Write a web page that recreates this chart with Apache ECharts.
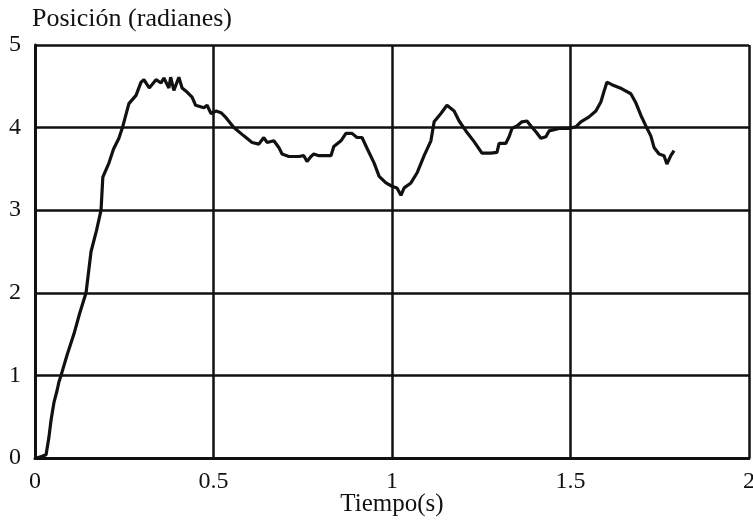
<!DOCTYPE html>
<html>
<head>
<meta charset="utf-8">
<script src="https://cdn.jsdelivr.net/npm/echarts@6/dist/echarts.min.js"></script>
<style>html,body{margin:0;padding:0;background:#fff}#c{width:753px;height:522px}</style>
</head>
<body>
<div id="c"></div>
<script>
var yTitle = 'Posición (radianes)';
var xTitle = 'Tiempo(s)';
var time = [0.005,0.02,0.031,0.039,0.045,0.053,0.062,0.067,0.073,0.09,0.109,0.125,0.143,0.157,0.172,0.185,0.19,0.207,0.22,0.235,0.245,0.263,0.283,0.297,0.305,0.32,0.339,0.353,0.361,0.375,0.38,0.389,0.403,0.412,0.426,0.44,0.45,0.473,0.482,0.493,0.507,0.521,0.535,0.557,0.585,0.608,0.627,0.641,0.65,0.669,0.683,0.692,0.711,0.739,0.753,0.762,0.773,0.781,0.795,0.829,0.837,0.857,0.871,0.888,0.902,0.916,0.93,0.95,0.964,0.983,1.0,1.014,1.025,1.034,1.053,1.07,1.09,1.109,1.118,1.137,1.154,1.174,1.188,1.207,1.23,1.252,1.277,1.294,1.3,1.319,1.328,1.336,1.35,1.364,1.378,1.389,1.403,1.417,1.431,1.44,1.468,1.496,1.515,1.529,1.552,1.571,1.585,1.594,1.602,1.616,1.644,1.669,1.683,1.697,1.711,1.725,1.734,1.748,1.762,1.77,1.781,1.79];
var position = [0,0.02,0.04,0.25,0.46,0.67,0.82,0.92,1.0,1.25,1.5,1.75,2.0,2.5,2.75,3.0,3.4,3.57,3.74,3.87,4.0,4.29,4.39,4.55,4.58,4.48,4.58,4.54,4.6,4.48,4.61,4.45,4.61,4.48,4.43,4.37,4.27,4.24,4.27,4.17,4.2,4.18,4.12,4.0,3.9,3.82,3.8,3.88,3.82,3.84,3.76,3.68,3.65,3.65,3.66,3.59,3.65,3.68,3.66,3.66,3.77,3.84,3.93,3.93,3.88,3.88,3.75,3.57,3.41,3.33,3.29,3.27,3.18,3.27,3.33,3.45,3.66,3.84,4.07,4.17,4.27,4.2,4.08,3.96,3.83,3.69,3.69,3.7,3.81,3.81,3.89,3.99,4.02,4.07,4.08,4.02,3.95,3.87,3.89,3.96,3.99,3.99,4.01,4.07,4.13,4.2,4.31,4.44,4.55,4.52,4.47,4.41,4.3,4.15,4.02,3.9,3.76,3.68,3.66,3.56,3.66,3.72];
var xTicks = [0, 0.5, 1, 1.5, 2];
var yTicks = [0, 1, 2, 3, 4, 5];

var data = time.map(function (t, i) { return [t, position[i]]; });
var font = 'Liberation Serif';
var chart = echarts.init(document.getElementById('c'), null, {renderer: 'canvas'});
chart.setOption({
  animation: false,
  backgroundColor: '#ffffff',
  title: {
    text: yTitle, left: 32, top: 6, padding: 0,
    textStyle: {fontFamily: font, fontSize: 26, fontWeight: 'normal', color: '#111'}
  },
  grid: {left: 35, right: 4, top: 45, bottom: 64, containLabel: false, outerBoundsMode: 'none'},
  xAxis: {
    type: 'value', min: xTicks[0], max: xTicks[xTicks.length - 1], interval: 0.5,
    name: xTitle, nameLocation: 'middle', nameGap: 34, nameMoveOverlap: false,
    nameTextStyle: {fontFamily: font, fontSize: 25, color: '#111'},
    axisLine: {show: true, lineStyle: {color: '#111', width: 3}},
    axisTick: {show: false},
    axisLabel: {fontFamily: font, fontSize: 24, color: '#111', margin: 12,
      formatter: function (v) { return String(v); }},
    splitLine: {show: true, lineStyle: {color: '#111', width: 2.5}}
  },
  yAxis: {
    type: 'value', min: yTicks[0], max: yTicks[yTicks.length - 1], interval: 1,
    axisLine: {show: true, lineStyle: {color: '#111', width: 3}},
    axisTick: {show: false},
    axisLabel: {fontFamily: font, fontSize: 24, color: '#111', margin: 14},
    splitLine: {show: true, lineStyle: {color: '#111', width: 2.5}}
  },
  series: [{
    type: 'line', data: data, showSymbol: false, smooth: false,
    lineStyle: {color: '#111', width: 3.2}, z: 5
  }]
});
</script>
</body>
</html>
